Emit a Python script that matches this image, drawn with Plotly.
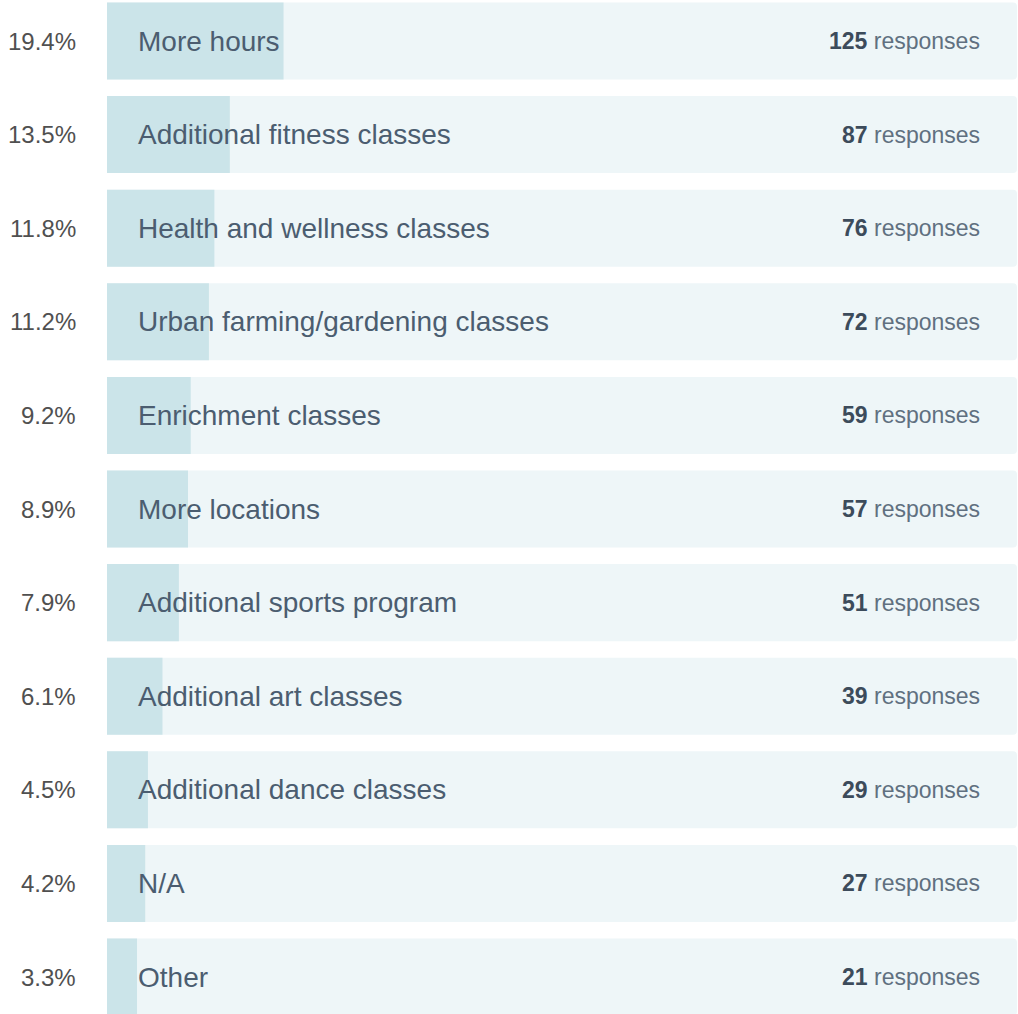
import plotly.graph_objects as go

# Survey answers, top to bottom
categories = [
    "More hours",
    "Additional fitness classes",
    "Health and wellness classes",
    "Urban farming/gardening classes",
    "Enrichment classes",
    "More locations",
    "Additional sports program",
    "Additional art classes",
    "Additional dance classes",
    "N/A",
    "Other",
]
percents = [19.4, 13.5, 11.8, 11.2, 9.2, 8.9, 7.9, 6.1, 4.5, 4.2, 3.3]
responses = [125, 87, 76, 72, 59, 57, 51, 39, 29, 27, 21]

rows = list(range(len(categories)))
font = "Liberation Sans, Arial, sans-serif"

fig = go.Figure()

# full-width track behind each answer
fig.add_trace(go.Bar(
    x=[100] * len(rows), y=rows, orientation="h", width=0.823,
    marker=dict(color="#eef6f8", line=dict(width=0)),
    hoverinfo="skip", showlegend=False,
))
# filled part = share of responses
fig.add_trace(go.Bar(
    x=percents, y=rows, orientation="h", width=0.823,
    marker=dict(color="#cbe4e9", line=dict(width=0)),
    hoverinfo="skip", showlegend=False,
))

for i, (cat, pct, n) in enumerate(zip(categories, percents, responses)):
    fig.add_annotation(
        x=0, y=i, xref="x", yref="y", text=f"{pct}%",
        xanchor="right", xshift=-29, showarrow=False,
        font=dict(family=font, size=24, color="#505050"),
    )
    fig.add_annotation(
        x=0, y=i, xref="x", yref="y", text=cat,
        xanchor="left", xshift=29, showarrow=False,
        font=dict(family=font, size=28, color="#4b5d70"),
    )
    fig.add_annotation(
        x=100, y=i, xref="x", yref="y",
        text=f"<b><span style='color:#3c4b5b'>{n}</span></b> responses",
        xanchor="right", xshift=-35, showarrow=False,
        font=dict(family=font, size=23, color="#607080"),
    )

fig.update_layout(
    width=1018, height=1014,
    margin=dict(l=107, r=1, t=0, b=0),
    paper_bgcolor="white", plot_bgcolor="white",
    barmode="overlay", barcornerradius=4,
    xaxis=dict(range=[0, 100], visible=False, fixedrange=True),
    yaxis=dict(range=[10.395, -0.438], visible=False, fixedrange=True),
)

fig.write_html("out.html", post_script="document.body.style.margin='0';",
               config={"displayModeBar": False})
